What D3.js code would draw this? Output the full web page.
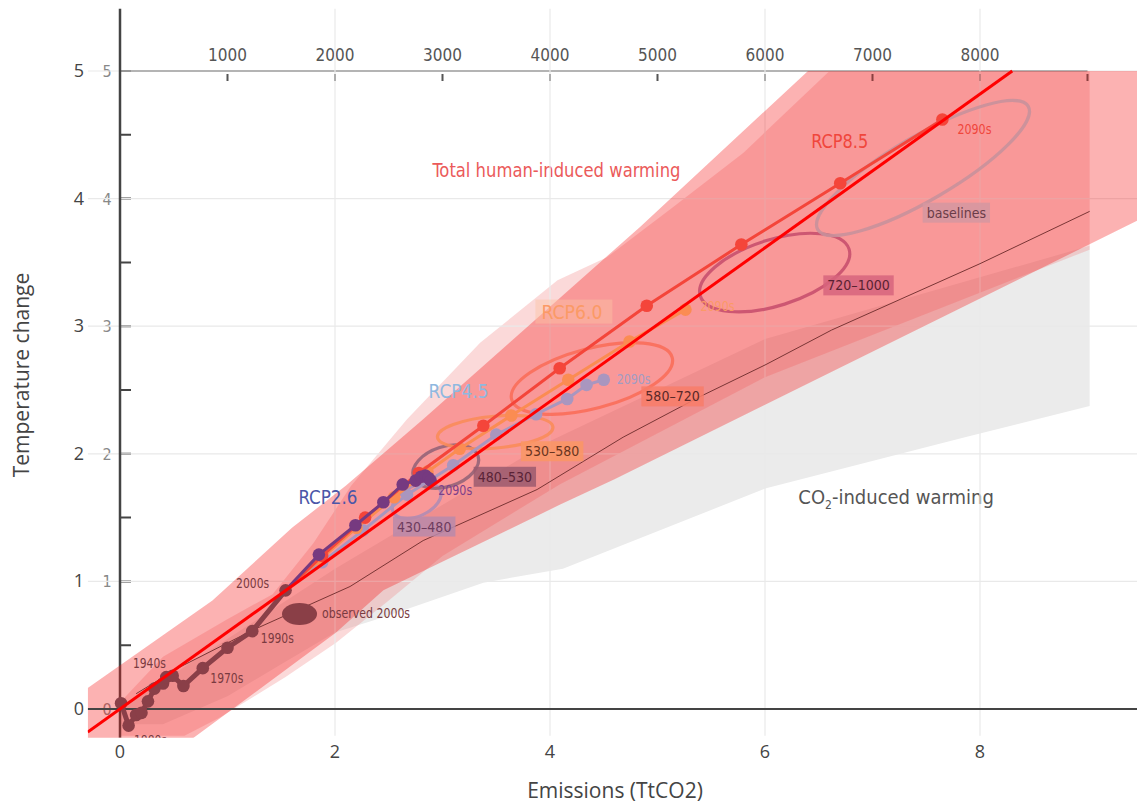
<!DOCTYPE html>
<html><head><meta charset="utf-8">
<script src="https://cdn.jsdelivr.net/npm/d3@7"></script>
<style>body{margin:0;background:#fff;} svg{display:block;}</style>
</head><body>
<svg id="chart" width="1137" height="805"></svg>
<script>
// ---------- data ----------
const xTicks = [0, 2, 4, 6, 8];
const yTicks = [0, 1, 2, 3, 4, 5];
const topTicks = [1000, 2000, 3000, 4000, 5000, 6000, 7000, 8000, 9000];
const topTickLabels = ["1000", "2000", "3000", "4000", "5000", "6000", "7000", "8000", ""];
const innerYTicks = [0, 0.5, 1, 1.5, 2, 2.5, 3, 3.5, 4, 4.5, 5];
const innerYLabels = ["0", "1", "2", "3", "4", "5"];

const histX = [0.01, 0.08, 0.15, 0.20, 0.26, 0.32, 0.40, 0.43, 0.49, 0.59, 0.77, 1.00, 1.23, 1.54];
const histY = [0.045, -0.13, -0.047, -0.03, 0.06, 0.16, 0.20, 0.25, 0.26, 0.18, 0.32, 0.48, 0.61, 0.93];

const rcp26X = [1.54, 1.85, 2.19, 2.45, 2.63, 2.75, 2.80, 2.84, 2.87, 2.89];
const rcp26Y = [0.93, 1.21, 1.44, 1.62, 1.76, 1.79, 1.82, 1.83, 1.81, 1.79];
const rcp45X = [1.54, 1.88, 2.26, 2.67, 3.10, 3.50, 3.87, 4.16, 4.34, 4.50];
const rcp45Y = [0.93, 1.15, 1.40, 1.68, 1.91, 2.15, 2.31, 2.43, 2.54, 2.58];
const rcp60X = [1.54, 1.86, 2.20, 2.55, 2.86, 3.16, 3.64, 4.17, 4.74, 5.26];
const rcp60Y = [0.93, 1.17, 1.42, 1.66, 1.86, 2.04, 2.30, 2.58, 2.88, 3.13];
const rcp85X = [1.54, 1.88, 2.28, 2.78, 3.38, 4.09, 4.90, 5.78, 6.70, 7.65];
const rcp85Y = [0.93, 1.20, 1.50, 1.85, 2.22, 2.67, 3.16, 3.64, 4.12, 4.62];

const co2MeanX = [0.15, 0.56, 1.24, 2.14, 2.82, 3.88, 4.68, 5.40, 6.01, 6.62, 8.00, 9.02];
const co2MeanY = [0.12, 0.33, 0.62, 0.96, 1.32, 1.72, 2.13, 2.45, 2.70, 2.97, 3.49, 3.90];

const greyUpX = [0.0, 2.0, 4.0, 6.0, 9.02];
const greyUpY = [0.0, 1.10, 2.10, 2.90, 3.63];
const greyLoX = [9.02, 7.86, 7.17, 6.01, 4.12, 3.38, 2.45, 2.0, 1.5, 1.0, 0.4, 0.0];
const greyLoY = [2.375, 2.13, 1.98, 1.73, 1.10, 0.99, 0.72, 0.60, 0.35, 0.10, -0.12, -0.12];

const plumeUpX = [0.0, 0.40, 0.99, 1.42, 1.80, 2.15, 2.67, 3.35, 4.07, 4.53, 5.14, 5.80, 6.60, 9.02];
const plumeUpY = [0.05, 0.41, 0.70, 0.90, 1.30, 1.75, 2.27, 2.87, 3.36, 3.54, 3.93, 4.36, 5.00, 5.00];
const plumeLoX = [9.02, 6.00, 4.09, 3.00, 2.50, 2.01, 1.54, 0.92, 0.60, 0.0];
const plumeLoY = [3.60, 2.60, 1.76, 1.20, 0.85, 0.52, 0.25, -0.07, -0.21, -0.21];

const bandUpX = [-0.3, 0.86, 1.60, 2.10, 2.82, 4.84, 6.40, 9.47];
const bandUpY = [0.165, 0.85, 1.42, 1.75, 2.27, 3.78, 5.00, 5.00];
const bandLoX = [9.47, 4.60, 4.09, 2.45, 2.01, 0.71, -0.3];
const bandLoY = [3.83, 1.80, 1.60, 0.93, 0.60, -0.21, -0.83];

const fitX = [-0.3, 8.3];
const fitY = [-0.18, 5.0];

const ellNames = ["430–480", "480–530", "530–580", "580–720", "720–1000", "baselines"];
const ellCX = [2.76, 3.03, 3.49, 4.39, 6.09, 7.47];
const ellCY = [1.63, 1.90, 2.17, 2.59, 3.42, 4.24];
const ellAX = [0.219, 0.301, 0.537, 0.747, 0.692, 0.979];
const ellAY = [0.086, 0.082, 0.040, 0.164, 0.184, 0.483];
const ellB  = [0.118, 0.157, 0.125, 0.235, 0.259, 0.25];
const ellLabX = [2.83, 3.58, 4.02, 5.14, 6.87, 7.78];
const ellLabY = [1.43, 1.82, 2.02, 2.45, 3.32, 3.89];

const obsX = 1.67, obsY = 0.745, obsRX = 0.163, obsRY = 0.086;

const rcpNames = ["RCP2.6", "RCP4.5", "RCP6.0", "RCP8.5"];
const rcpNameX = [1.66, 2.87, 3.92, 6.43];
const rcpNameY = [1.61, 2.44, 3.06, 4.40];
const endLabX = [2.96, 4.62, 5.40, 7.79];
const endLabY = [1.68, 2.55, 3.12, 4.51];

const decadeNames = ["1880s", "1940s", "1970s", "1990s", "2000s"];
const decadeX = [0.13, 0.12, 0.84, 1.31, 1.08];
const decadeY = [-0.28, 0.32, 0.20, 0.52, 0.95];

// ---------- setup ----------
const svg = d3.select("#chart");
const W = 1137, H = 805;
const x = d3.scaleLinear().domain([0, 8]).range([120, 980]);
const y = d3.scaleLinear().domain([0, 5]).range([709, 71]);
const pl = x(-0.3), pr = W, pt = y(5.49), pb = y(-0.21);

const condensed = "'Liberation Sans Narrow','DejaVu Sans Condensed','Open Sans',sans-serif";
const openSans = "'Open Sans','DejaVu Sans',sans-serif";

svg.append("rect").attr("width", W).attr("height", H).attr("fill", "#fff");
const defs = svg.append("defs");
defs.append("clipPath").attr("id", "plotclip").append("rect")
  .attr("x", pl).attr("y", pt).attr("width", pr - pl).attr("height", pb - pt + 2);

const g = svg.append("g").attr("clip-path", "url(#plotclip)");
const zip = (a, b) => a.map((v, i) => [v, b[i]]);
const line = d3.line().x(d => x(d[0])).y(d => y(d[1]));
const poly = (ux, uy, lx, ly) => line(zip(ux, uy).concat(zip(lx, ly))) + "Z";

// grey CO2-only plume
g.append("path").attr("d", poly(greyUpX, greyUpY, greyLoX, greyLoY)).attr("fill", "#ebebeb");
// total human-induced plume
g.append("path").attr("d", poly(plumeUpX, plumeUpY, plumeLoX, plumeLoY))
  .attr("fill", "rgb(240,120,120)").attr("fill-opacity", 0.28);

// plume labels
g.append("text").attr("x", x(4.06)).attr("y", y(4.17)).attr("text-anchor", "middle")
  .attr("font-family", condensed).attr("font-size", 20).attr("fill", "#eb5a5a")
  .attr("textLength", 248).attr("lengthAdjust", "spacingAndGlyphs")
  .text("Total human-induced warming");
const co2t = g.append("text").attr("x", x(6.31)).attr("y", y(1.61))
  .attr("font-family", condensed).attr("font-size", 20).attr("fill", "#555");
co2t.append("tspan").text("CO");
co2t.append("tspan").attr("font-size", 12).attr("dy", 5).text("2");
co2t.append("tspan").attr("dy", -5).text("-induced warming");

// inner (image) axes
g.append("line").attr("x1", x(0)).attr("x2", x(9)).attr("y1", y(5)).attr("y2", y(5))
  .attr("stroke", "#555").attr("stroke-width", 1.5);
g.selectAll(".ttick").data(topTicks).join("line")
  .attr("x1", d => x(d / 1000)).attr("x2", d => x(d / 1000))
  .attr("y1", y(5) + 3).attr("y2", y(5) + 10).attr("stroke", "#555").attr("stroke-width", 2);
g.selectAll(".tlab").data(topTicks).join("text")
  .attr("x", d => x(d / 1000)).attr("y", y(5) - 10).attr("text-anchor", "middle")
  .attr("font-family", condensed).attr("font-size", 17).attr("fill", "#555")
  .text((d, i) => topTickLabels[i]);
g.selectAll(".ytk").data(innerYTicks).join("line")
  .attr("x1", x(0)).attr("x2", x(0) + 11).attr("y1", d => y(d)).attr("y2", d => y(d))
  .attr("stroke", "#444").attr("stroke-width", 2);
g.selectAll(".ylb").data(innerYLabels).join("text")
  .attr("x", x(0) - 13).attr("y", (d, i) => y(i) + 6).attr("text-anchor", "middle")
  .attr("font-family", condensed).attr("font-size", 16).attr("fill", "#888").text(d => d);

// gridlines
g.selectAll(".gx").data(xTicks).join("line")
  .attr("x1", d => x(d)).attr("x2", d => x(d)).attr("y1", pt).attr("y2", pb)
  .attr("stroke", "#e9e9e9").attr("stroke-width", 1.2);
g.selectAll(".gy").data(yTicks.filter(d => d !== 0)).join("line")
  .attr("x1", pl).attr("x2", pr).attr("y1", d => y(d)).attr("y2", d => y(d))
  .attr("stroke", "#e9e9e9").attr("stroke-width", 1.2);

// inner left axis line
g.append("line").attr("x1", x(0)).attr("x2", x(0)).attr("y1", pt).attr("y2", pb + 2)
  .attr("stroke", "#444").attr("stroke-width", 2.5);

// regression band
g.append("path").attr("d", poly(bandUpX, bandUpY, bandLoX, bandLoY))
  .attr("fill", "rgb(245,20,20)").attr("fill-opacity", 0.33);

// zero line
g.append("line").attr("x1", pl).attr("x2", pr).attr("y1", y(0)).attr("y2", y(0))
  .attr("stroke", "#444").attr("stroke-width", 2);

// CO2-only mean line
g.append("path").attr("d", line(zip(co2MeanX, co2MeanY))).attr("fill", "none")
  .attr("stroke", "#7a3535").attr("stroke-width", 1);

// category ellipses
const ellStroke = ["#b08cb4", "#966478", "#fa8c5a", "#fa6e5a", "#c8506e", "#c8919b"];
const boxFill = ["#b98aaa", "#9b5a6e", "#fa9664", "#f87d69", "#d7647d", "#d596a0"];
const boxText = ["#6e3c5e", "#5a2337", "#6a3420", "#5a2828", "#5a2232", "#6a3c48"];
ellNames.forEach((nm, i) => {
  const cx = x(ellCX[i]), cy = y(ellCY[i]);
  const ex = x(ellCX[i] + ellAX[i]), ey = y(ellCY[i] + ellAY[i]);
  const a = Math.hypot(ex - cx, ey - cy);
  const ang = Math.atan2(ey - cy, ex - cx) * 180 / Math.PI;
  const b = y(0) - y(ellB[i]);
  g.append("ellipse").attr("cx", 0).attr("cy", 0).attr("rx", a).attr("ry", b)
    .attr("transform", `translate(${cx},${cy}) rotate(${ang})`)
    .attr("fill", "none").attr("stroke", ellStroke[i]).attr("stroke-width", 3.2).attr("stroke-opacity", 0.9);
});

// observed 2000s ellipse
g.append("ellipse").attr("cx", x(obsX)).attr("cy", y(obsY))
  .attr("rx", x(obsRX) - x(0)).attr("ry", y(0) - y(obsRY)).attr("fill", "#8a3f47");

// historical and RCP lines
const series = [
  {xs: rcp45X, ys: rcp45Y, c: "#a996bf"},
  {xs: rcp60X, ys: rcp60Y, c: "#fb8c52"},
  {xs: rcp85X, ys: rcp85Y, c: "#f4453a"},
  {xs: rcp26X, ys: rcp26Y, c: "#763a80"},
];
series.forEach(s => {
  const pts = zip(s.xs, s.ys);
  g.append("path").attr("d", line(pts)).attr("fill", "none").attr("stroke", s.c).attr("stroke-width", 3);
  g.selectAll(null).data(pts.slice(1)).join("circle")
    .attr("cx", d => x(d[0])).attr("cy", d => y(d[1])).attr("r", 6.3).attr("fill", s.c);
});
const hpts = zip(histX, histY);
g.append("path").attr("d", line(hpts)).attr("fill", "none").attr("stroke", "#8a3f48")
  .attr("stroke-width", 5).attr("stroke-linejoin", "round");
g.selectAll(null).data(hpts).join("circle")
  .attr("cx", d => x(d[0])).attr("cy", d => y(d[1])).attr("r", 6.3).attr("fill", "#8a3f48");

// ellipse labels with boxes
ellNames.forEach((nm, i) => {
  const cx = x(ellLabX[i]), cy = y(ellLabY[i]);
  const t = g.append("text").attr("x", cx).attr("y", cy + 5).attr("text-anchor", "middle")
    .attr("font-family", condensed).attr("font-size", 14).attr("fill", boxText[i]).text(nm);
  const w = t.node().getComputedTextLength();
  g.insert("rect", () => t.node()).attr("x", cx - w / 2 - 4).attr("y", cy - 10)
    .attr("width", w + 8).attr("height", 20).attr("fill", boxFill[i]).attr("fill-opacity", 0.85);
});

// RCP names
const nameCol = ["#4b56a8", "#8fb8e0", "#fb9a66", "#f0463c"];
const endCol = ["#7d3f8a", "#a39cc4", "#fb9a66", "#f0463c"];
const nameLen = [59, 60, 61, 57];
// light box behind RCP6.0
g.append("rect").attr("x", x(rcpNameX[2]) - 6).attr("y", y(rcpNameY[2]) - 19)
  .attr("width", 77).attr("height", 24).attr("fill", "#fbc3a3").attr("fill-opacity", 0.45);
rcpNames.forEach((nm, i) => {
  g.append("text").attr("x", x(rcpNameX[i])).attr("y", y(rcpNameY[i]))
    .attr("font-family", condensed).attr("font-size", 20).attr("fill", nameCol[i])
    .attr("textLength", nameLen[i]).attr("lengthAdjust", "spacingAndGlyphs").text(nm);
  g.append("text").attr("x", x(endLabX[i])).attr("y", y(endLabY[i]))
    .attr("font-family", condensed).attr("font-size", 14).attr("fill", endCol[i])
    .attr("textLength", 34).attr("lengthAdjust", "spacingAndGlyphs").text("2090s");
});

// decade labels
decadeNames.forEach((nm, i) => {
  g.append("text").attr("x", x(decadeX[i])).attr("y", y(decadeY[i]))
    .attr("font-family", condensed).attr("font-size", 14).attr("fill", "#7a3a40")
    .attr("textLength", 33).attr("lengthAdjust", "spacingAndGlyphs").text(nm);
});
g.append("text").attr("x", x(1.88)).attr("y", y(0.71))
  .attr("font-family", condensed).attr("font-size", 14).attr("fill", "#7a3a40")
  .attr("textLength", 88).attr("lengthAdjust", "spacingAndGlyphs").text("observed 2000s");

// fitted line
g.append("path").attr("d", line(zip(fitX, fitY))).attr("fill", "none")
  .attr("stroke", "#ff0000").attr("stroke-width", 3);

// ---------- outer axes ----------
svg.selectAll(".xl").data(xTicks).join("text")
  .attr("x", d => x(d)).attr("y", 758).attr("text-anchor", "middle")
  .attr("font-family", openSans).attr("font-size", 18).attr("fill", "#444").text(d => d);
svg.selectAll(".yl").data(yTicks).join("text")
  .attr("x", 84).attr("y", d => y(d) + 6).attr("text-anchor", "end")
  .attr("font-family", openSans).attr("font-size", 18).attr("fill", "#444").text(d => d);
svg.append("text").attr("x", 615).attr("y", 798).attr("text-anchor", "middle")
  .attr("font-family", openSans).attr("font-size", 21).attr("fill", "#444").text("Emissions (TtCO2)");
svg.append("text").attr("transform", "translate(29,375) rotate(-90)").attr("text-anchor", "middle")
  .attr("font-family", openSans).attr("font-size", 21).attr("fill", "#444").text("Temperature change");
</script>
</body></html>
